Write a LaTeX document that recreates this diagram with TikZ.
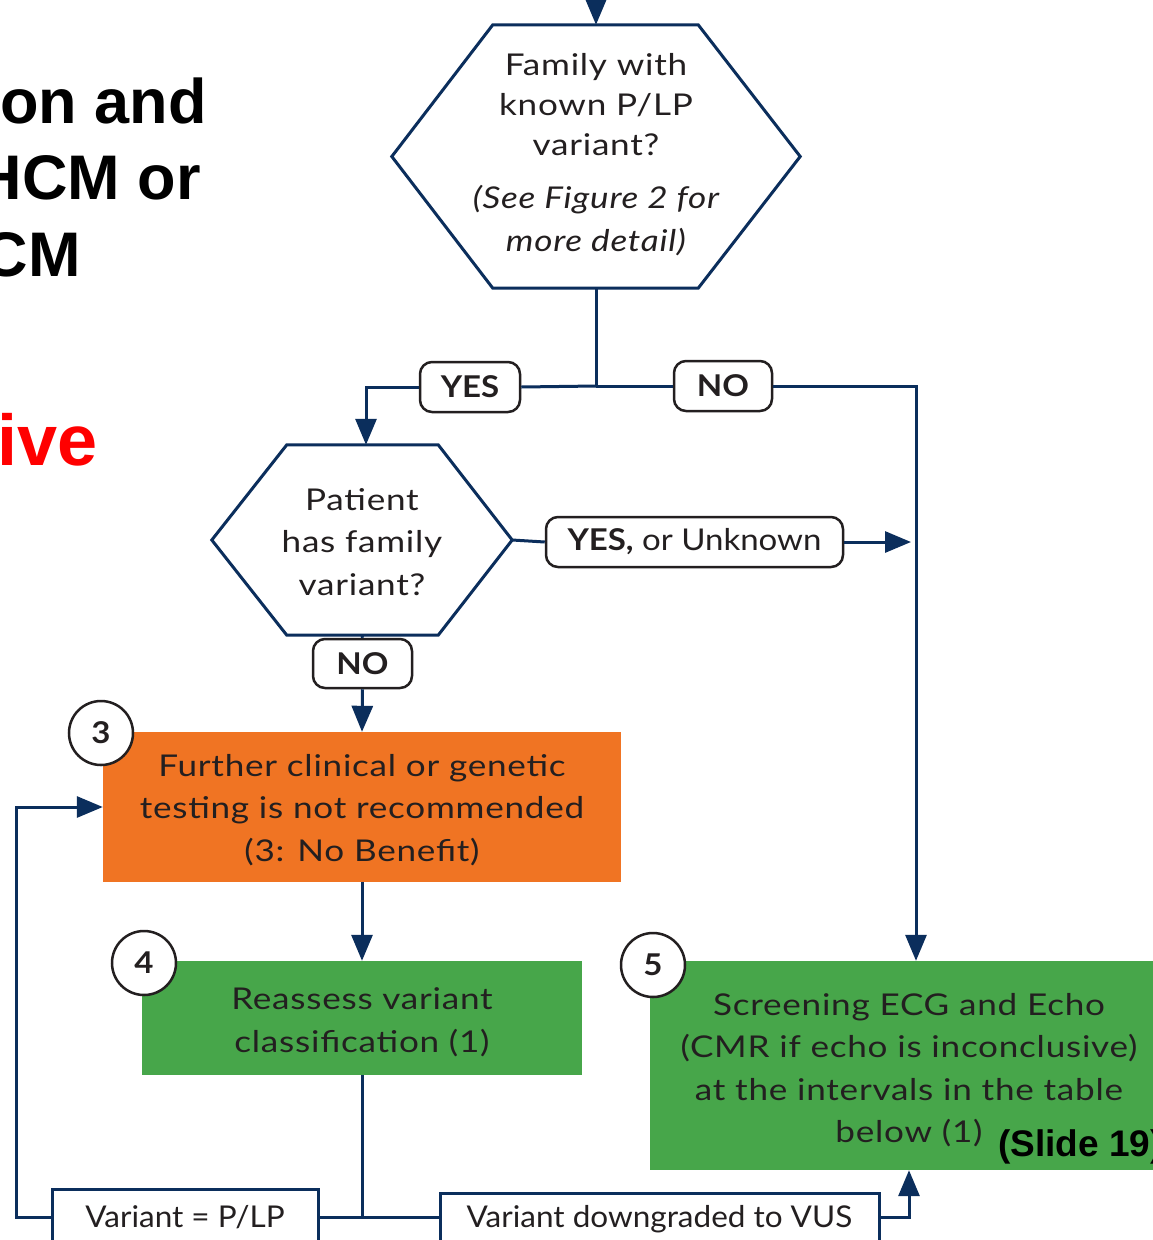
\documentclass[tikz,border=0pt]{standalone}
\usepackage{fontspec}
\setmainfont{Lato}
\setsansfont{Liberation Sans}
\newfontfamily\flowfont{Lato}[FakeStretch=1.17, LetterSpace=2.5]
\newfontfamily\tagfont{Lato}[FakeStretch=1.1]
\newfontfamily\outfont{Lato}[FakeStretch=1.05]
\usetikzlibrary{arrows.meta,calc}

\definecolor{navy}{HTML}{0B2E5C}
\definecolor{orangebox}{HTML}{F07423}
\definecolor{greenbox}{HTML}{47A64A}
\definecolor{ink}{HTML}{231F20}
\definecolor{slidered}{HTML}{FF0000}

\tikzset{
  flow/.style={line width=3pt, draw=navy},
  arr/.style={flow, -{Triangle[length=26pt,width=21pt]}},
  hexframe/.style={line width=3pt, draw=navy, line join=miter},
  hextext/.style={inner sep=0pt, text=ink, align=center,
    font=\flowfont\fontsize{30}{42.5}\selectfont},
  actionbox/.style={inner sep=0pt, text=ink, align=center,
    font=\flowfont\fontsize{30}{42.5}\selectfont},
  answer/.style={draw=ink, line width=2.5pt, rounded corners=12pt, fill=white,
    minimum height=50pt, inner sep=0pt, text=ink,
    font=\tagfont\bfseries\fontsize{30}{34}\selectfont},
  outcome/.style={draw=navy, line width=3pt, fill=white, minimum height=56pt,
    inner sep=0pt, text=ink, font=\outfont\fontsize{30}{34}\selectfont},
  stepnum/.style={circle, draw=ink, line width=2.5pt, fill=white,
    minimum size=64pt, inner sep=0pt, text=ink,
    font=\tagfont\bfseries\fontsize{30}{34}\selectfont},
  heading/.style={inner sep=0pt, anchor=base east,
    font=\sffamily\bfseries\fontsize{63}{70}\selectfont},
}

\begin{document}
\begin{tikzpicture}[x=1pt, y=-1pt]
\clip (0,0) rectangle (1153,1240);
\fill[white] (0,0) rectangle (1153,1240);

% headline fragments along the left margin
\node[heading] (hA) at (207,123) {on and};
\node[heading] (hB) at (201,199) {HCM or};
\node[heading] (hC) at (81,276) {CM};
\node[heading, text=slidered, font=\sffamily\bfseries\fontsize{72}{80}\selectfont] (hD) at (98,465) {ive};

% first decision: family variant
\node[minimum width=408pt, minimum height=263pt, inner sep=0pt] (h1) at (596,156.5) {};
\draw[hexframe] ($(h1.north west)+(101,0)$) -- ($(h1.north east)-(102,0)$) -- (h1.east)
  -- ($(h1.south east)-(102,0)$) -- ($(h1.south west)+(101,0)$) -- (h1.west) -- cycle;
\node[hextext, font=\flowfont\fontsize{30}{40}\selectfont] (h1t) at (596,155)
  {Family with\\known P/LP\\variant?\\[13pt]\itshape (See Figure 2 for\\[3pt]\itshape more detail)};

% second decision: patient variant
\node[minimum width=300pt, minimum height=190pt, inner sep=0pt] (h2) at (362,540) {};
\draw[hexframe] ($(h2.north west)+(75,0)$) -- ($(h2.north east)-(74,0)$) -- (h2.east)
  -- ($(h2.south east)-(74,0)$) -- ($(h2.south west)+(75,0)$) -- (h2.west) -- cycle;
\node[hextext] (h2t) at (362,542) {Patient\\has family\\variant?};

% action boxes
\node[actionbox, fill=orangebox, minimum width=518pt, minimum height=150pt] (b3) at (362,807)
  {};
\node[actionbox] (b3t) at (362,810)
  {Further clinical or genetic\\testing is not recommended\\(3: No Benefit)};
\node[actionbox, fill=greenbox, minimum width=440pt, minimum height=114pt] (b4) at (362,1018)
  {};
\node[actionbox] (b4t) at (362,1022) {Reassess variant\\classification (1)};
\node[actionbox, fill=greenbox, minimum width=518pt, minimum height=209pt] (b5) at (909,1065.5)
  {};
\node[actionbox] (b5t) at (909,1070)
  {Screening ECG and Echo\\(CMR if echo is inconclusive)\\at the intervals in the table\\below (1)};

\node[inner sep=0pt, anchor=base west, font=\sffamily\bfseries\fontsize{37}{42}\selectfont]
  (slide) at (998,1156) {(Slide 19)};

% step numbers
\node[stepnum] (n3) at (101,733) {3};
\node[stepnum] (n4) at (144,963) {4};
\node[stepnum] (n5) at (653,965) {5};

% answer labels
\node[answer, minimum width=100pt] (yes1) at (470,387) {YES};
\node[answer, minimum width=98pt] (no1) at (723,386) {NO};
\node[answer, minimum width=297pt] (yesunk) at (694.5,542) {YES,\mdseries\ or Unknown};
\node[answer, minimum width=99pt, minimum height=49pt] (no2) at (362.5,663.5) {NO};

% reclassification outcomes
\node[outcome, minimum width=266pt] (plp) at (185,1217) {Variant = P/LP};
\node[outcome, minimum width=439pt, minimum height=52pt] (vus) at (659.5,1219) {Variant downgraded to VUS};

% connectors
\coordinate (entry) at (596,-5);
\coordinate (j1) at (596,386);
\coordinate (j2) at (362,1217);
\coordinate (tip) at (911,542);

\draw[arr] (entry) -- (h1.north);
\draw[flow] (h1.south) -- (j1);
\draw[flow] (j1) -- (yes1.east);
\draw[arr] (yes1.west) -| ([xshift=4pt]h2.north);
\draw[flow] (j1) -- (no1.west);
\draw[arr] (no1.east) -| ([xshift=7pt]b5.north);
\draw[flow] (h2.east) -- (yesunk.west);
\draw[arr] (yesunk.east) -- (tip);
\draw[flow] (h2.south) -- (no2.north);
\draw[arr] (no2.south) -- (b3.north);
\draw[arr] (b3.south) -- (b4.north);
\draw[flow] (b4.south) -- (j2);
\draw[flow] (j2) -- (plp.east);
\draw[flow] (j2) -- (j2 -| vus.west);
\draw[arr] (plp.west) -- ++(-34,0) |- (b3.west);
\draw[arr] (vus.east |- j2) -| (b5.south);
\end{tikzpicture}
\end{document}
